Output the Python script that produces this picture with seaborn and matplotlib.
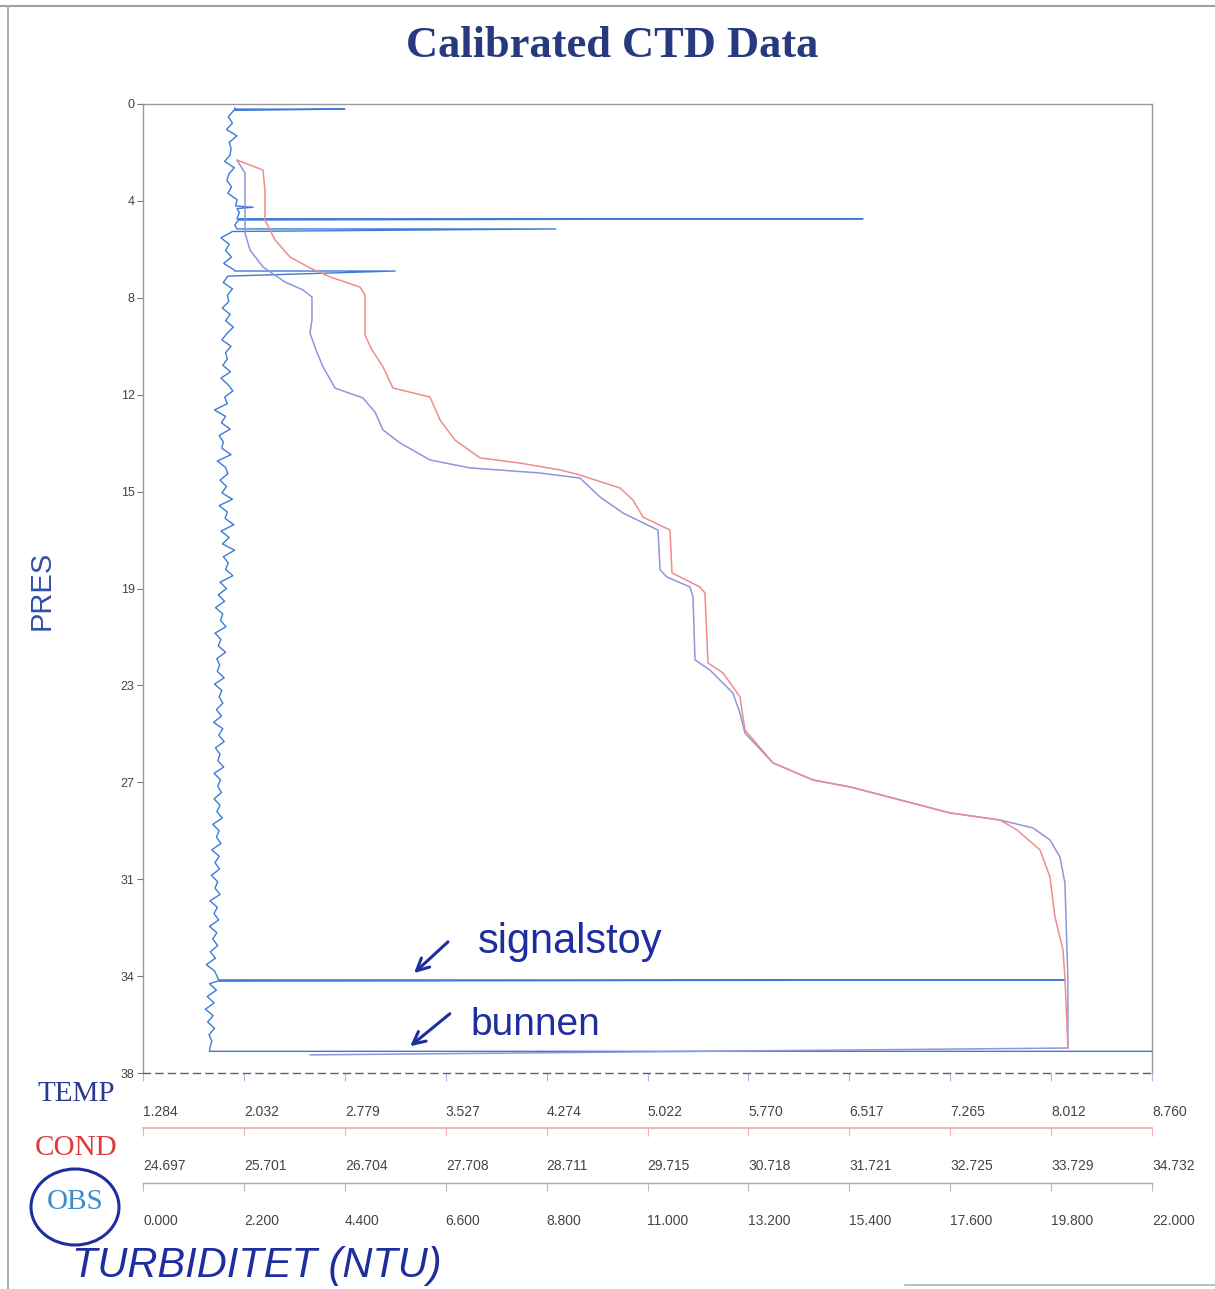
import matplotlib
matplotlib.use("Agg")
import matplotlib.pyplot as plt
from matplotlib.patches import Ellipse, FancyArrowPatch
from matplotlib.lines import Line2D
import seaborn as sns

# ---------------- data ----------------
pres_ticks = [0.0, 3.8, 7.6, 11.4, 15.2, 19.0, 22.8, 26.6, 30.4, 34.2, 38.0]
pres_labels = ["0", "4", "8", "12", "15", "19", "23", "27", "31", "34", "38"]

temp_ticks = [1.284, 2.032, 2.779, 3.527, 4.274, 5.022, 5.770, 6.517, 7.265, 8.012, 8.760]
cond_ticks = [24.697, 25.701, 26.704, 27.708, 28.711, 29.715, 30.718, 31.721, 32.725, 33.729, 34.732]
obs_ticks = [0.0, 2.2, 4.4, 6.6, 8.8, 11.0, 13.2, 15.4, 17.6, 19.8, 22.0]

# temperature profile (degC) vs pressure (dbar)
temp_pres = [2.20, 2.71, 3.76, 5.06, 5.73, 6.39, 6.98, 7.29, 7.57, 8.47, 8.98, 9.65,
             10.31, 11.14, 11.53, 12.08, 12.78, 13.29, 13.96, 14.27, 14.47, 14.67,
             15.41, 16.04, 16.71, 18.27, 18.55, 18.94, 19.33, 21.80, 22.20, 23.10,
             23.88, 24.67, 25.84, 26.51, 26.78, 27.29, 27.80, 28.08, 28.39, 28.86,
             29.53, 30.55, 33.18, 34.35, 37.02, 37.29]
temp_val = [1.980, 2.040, 2.040, 2.040, 2.077, 2.173, 2.336, 2.469, 2.536, 2.536, 2.521,
            2.566, 2.618, 2.707, 2.914, 3.003, 3.062, 3.188, 3.410, 3.707, 4.225, 4.522,
            4.670, 4.840, 5.100, 5.115, 5.166, 5.337, 5.359, 5.374, 5.485, 5.655, 5.707,
            5.744, 5.952, 6.248, 6.522, 6.893, 7.263, 7.634, 7.878, 8.004, 8.078, 8.115,
            8.130, 8.137, 8.137, 2.521]

# conductivity profile (mS/cm) vs pressure (dbar)
cond_pres = [2.20, 2.59, 3.37, 4.55, 5.33, 6.00, 6.43, 6.78, 7.18, 7.49, 9.06, 9.65,
             10.31, 11.14, 11.49, 12.39, 13.18, 13.88, 14.08, 14.35, 14.55, 15.06, 15.53,
             16.20, 16.71, 18.39, 18.94, 19.18, 21.92, 22.31, 23.25, 24.55, 25.84, 26.51,
             26.78, 27.29, 27.80, 28.08, 28.47, 29.25, 30.31, 31.88, 33.18, 34.35, 37.02]
cond_val = [25.632, 25.890, 25.910, 25.910, 26.010, 26.159, 26.358, 26.557, 26.855,
            26.905, 26.905, 26.975, 27.084, 27.183, 27.551, 27.651, 27.800, 28.049,
            28.446, 28.844, 29.043, 29.441, 29.570, 29.670, 29.938, 29.958, 30.236,
            30.286, 30.316, 30.465, 30.634, 30.684, 30.963, 31.360, 31.728, 32.226,
            32.723, 33.220, 33.389, 33.618, 33.717, 33.767, 33.847, 33.867, 33.896]

# optical backscatter / turbidity (NTU) vs pressure (dbar)
obs_pres = [0.15, 0.20, 0.20, 0.25, 0.50, 0.75, 1.00, 1.25, 1.50, 1.75, 2.00, 2.25, 2.50,
            2.75, 3.00, 3.25, 3.50, 3.75, 4.00, 4.05, 4.10, 4.25, 4.50, 4.50, 4.55,
            4.75, 4.90, 4.90, 5.00, 5.25, 5.50, 5.75, 6.00, 6.25, 6.50, 6.55, 6.55,
            6.75, 7.00, 7.25, 7.50, 7.75, 8.00, 8.25, 8.50, 8.75, 9.00, 9.25, 9.50,
            9.75, 10.00, 10.25, 10.50, 10.75, 11.00, 11.25, 11.50, 11.75, 12.00, 12.25,
            12.50, 12.75, 13.00, 13.25, 13.50, 13.75, 14.00, 14.25, 14.50, 14.75, 15.00,
            15.25, 15.50, 15.75, 16.00, 16.25, 16.50, 16.75, 17.00, 17.25, 17.50, 17.75,
            18.00, 18.25, 18.50, 18.75, 19.00, 19.25, 19.50, 19.75, 20.00, 20.25, 20.50,
            20.75, 21.00, 21.25, 21.50, 21.75, 22.00, 22.25, 22.50, 22.75, 23.00, 23.25,
            23.50, 23.75, 24.00, 24.25, 24.50, 24.75, 25.00, 25.25, 25.50, 25.75, 26.00,
            26.25, 26.50, 26.75, 27.00, 27.25, 27.50, 27.75, 28.00, 28.25, 28.50, 28.75,
            29.00, 29.25, 29.50, 29.75, 30.00, 30.25, 30.50, 30.75, 31.00, 31.25, 31.50,
            31.75, 32.00, 32.25, 32.50, 32.75, 33.00, 33.25, 33.50, 33.75, 34.00, 34.35,
            34.35, 34.40, 34.50, 34.75, 35.00, 35.25, 35.50, 35.75, 36.00, 36.25, 36.50,
            36.75, 37.00, 37.15, 37.15]
obs_val = [2.00, 2.00, 4.40, 1.98, 1.86, 1.95, 1.82, 2.05, 1.88, 1.92, 1.90, 1.78, 1.99,
           1.87, 1.83, 1.93, 1.85, 2.05, 2.02, 2.40, 2.05, 2.10, 2.05, 15.70, 2.08,
           2.00, 2.05, 9.00, 1.95, 1.70, 1.88, 1.80, 1.93, 1.76, 1.98, 2.00, 5.50,
           1.85, 1.75, 1.95, 1.84, 1.87, 1.73, 1.90, 1.80, 1.97, 1.83, 1.72, 1.92,
           1.80, 1.84, 1.74, 1.91, 1.70, 1.85, 1.96, 1.78, 1.84, 1.56, 1.80,
           1.71, 1.90, 1.66, 1.75, 1.72, 1.92, 1.62, 1.80, 1.85, 1.68, 1.82,
           1.72, 1.95, 1.66, 1.84, 1.79, 1.98, 1.70, 1.88, 1.73, 2.00, 1.75,
           1.86, 1.80, 1.96, 1.68, 1.82, 1.64, 1.78, 1.58, 1.74, 1.69, 1.81,
           1.57, 1.70, 1.64, 1.80, 1.61, 1.67, 1.62, 1.77, 1.56, 1.72, 1.66,
           1.74, 1.60, 1.71, 1.54, 1.74, 1.65, 1.77, 1.58, 1.68, 1.63, 1.76,
           1.55, 1.69, 1.63, 1.71, 1.55, 1.68, 1.61, 1.73, 1.52, 1.66, 1.60,
           1.70, 1.50, 1.66, 1.57, 1.67, 1.49, 1.63, 1.57, 1.68, 1.46, 1.62,
           1.55, 1.65, 1.45, 1.61, 1.52, 1.63, 1.47, 1.58, 1.38, 1.56, 1.65,
           20.10, 1.62, 1.45, 1.60, 1.40, 1.55, 1.36, 1.53, 1.41, 1.56, 1.44,
           1.50, 1.46, 1.45, 24.00]

# ---------------- style ----------------
sns.set_theme(style="white")
plt.rcParams["font.family"] = ["Liberation Sans", "DejaVu Sans"]

W, H = 1215, 1289
fig = plt.figure(figsize=(W / 100, H / 100), dpi=100)
fig.patch.set_facecolor("white")


def fx(px):
    return px / W


def fy(py):
    return 1 - py / H


L, R, T, B = 143, 1152, 104, 1073
ax = fig.add_axes([fx(L), fy(B), (R - L) / W, (B - T) / H])
ax_t = ax.twiny()
ax_c = ax.twiny()

TEMP_C = "#8e96dc"
COND_C = "#f08c8c"
OBS_C = "#3d7bd6"
INK = "#1f2e9e"
FRAME = "#9a9a9a"

# profiles
sns.lineplot(x=obs_val, y=obs_pres, sort=False, estimator=None, ax=ax,
             color=OBS_C, linewidth=1.0)
sns.lineplot(x=cond_val, y=cond_pres, sort=False, estimator=None, ax=ax_c,
             color=COND_C, linewidth=1.1)
sns.lineplot(x=temp_val, y=temp_pres, sort=False, estimator=None, ax=ax_t,
             color=TEMP_C, linewidth=1.1)

ax.set_ylim(38, 0)
ax.set_xlim(obs_ticks[0], obs_ticks[-1])
ax_t.set_xlim(temp_ticks[0], temp_ticks[-1])
ax_c.set_xlim(cond_ticks[0], cond_ticks[-1])
for a in (ax, ax_t, ax_c):
    a.set_xlabel("")
    a.set_ylabel("")

# y axis (pressure)
ax.set_yticks(pres_ticks)
ax.set_yticklabels(pres_labels)
ax.tick_params(axis="y", left=True, direction="out", length=4, width=0.8,
               color="#777777", labelsize=9, labelcolor="#444444", pad=2)
for side in ("left", "top", "right"):
    ax.spines[side].set_color(FRAME)
    ax.spines[side].set_linewidth(1.0)

# OBS axis (lowest)
ax.spines["bottom"].set_position(("outward", 110 * 0.72))
ax.spines["bottom"].set_color("#a8a8a8")
ax.spines["bottom"].set_linewidth(1.0)
ax.set_xticks(obs_ticks)
ax.set_xticklabels([f"{v:.3f}" for v in obs_ticks])
ax.tick_params(axis="x", bottom=True, direction="out", length=6, width=0.8,
               color="#bbbbbb", labelsize=10, labelcolor="#444444", pad=16)

# TEMP and COND axes share the pressure scale
for a in (ax_t, ax_c):
    for side in ("top", "left", "right"):
        a.spines[side].set_visible(False)
    a.xaxis.set_ticks_position("bottom")
    a.xaxis.set_label_position("bottom")
    a.spines["bottom"].set_visible(True)
    a.patch.set_visible(False)

ax_t.spines["bottom"].set_position(("outward", 0))
ax_t.spines["bottom"].set_linestyle((0, (5, 4)))
ax_t.spines["bottom"].set_color("#55607a")
ax_t.spines["bottom"].set_linewidth(1.0)
ax_t.set_xticks(temp_ticks)
ax_t.set_xticklabels([f"{v:.3f}" for v in temp_ticks])
ax_t.tick_params(axis="x", bottom=True, top=False, direction="out", length=6,
                 width=0.8, color="#b0b6e0", labelsize=10, labelcolor="#444444",
                 pad=17)

ax_c.spines["bottom"].set_position(("outward", 55 * 0.72))
ax_c.spines["bottom"].set_color("#f3a3a3")
ax_c.spines["bottom"].set_linewidth(1.2)
ax_c.set_xticks(cond_ticks)
ax_c.set_xticklabels([f"{v:.3f}" for v in cond_ticks])
ax_c.tick_params(axis="x", bottom=True, top=False, direction="out", length=6,
                 width=0.8, color="#f3b0b0", labelsize=10, labelcolor="#444444",
                 pad=16)

for a in (ax, ax_t, ax_c):
    for lbl in a.get_xticklabels():
        lbl.set_horizontalalignment("left")

# ---------------- texts ----------------
fig.text(fx(612), fy(46), "Calibrated CTD Data", ha="center", va="center",
         family=["Liberation Serif", "DejaVu Serif"], weight="bold",
         fontsize=32, color="#27397f")
fig.text(fx(42), fy(590), "PRES", rotation=90, ha="center", va="center",
         fontsize=21, color="#3050a8")

serif = ["Liberation Serif", "DejaVu Serif"]
fig.text(fx(76), fy(1094), "TEMP", ha="center", va="center", family=serif,
         fontsize=21, color="#2b3990")
fig.text(fx(76), fy(1148), "COND", ha="center", va="center", family=serif,
         fontsize=21, color="#dd3a3a")
fig.text(fx(75), fy(1202), "OBS", ha="center", va="center", family=serif,
         fontsize=21, color="#3b8ccc")

# handwritten notes
fig.patches.append(Ellipse((fx(75), fy(1207)), 88 / W, 76 / H, angle=0,
                           transform=fig.transFigure, fill=False,
                           edgecolor=INK, linewidth=2.2))
fig.text(fx(257), fy(1266), "TURBIDITET (NTU)", ha="center", va="center",
         fontsize=30, style="italic", color=INK)
fig.text(fx(570), fy(942), "signalstoy", ha="center", va="center",
         fontsize=30, color=INK)
fig.text(fx(535), fy(1025), "bunnen", ha="center", va="center",
         fontsize=28, color=INK)
for (x0, y0, x1, y1) in [(450, 940, 412, 975), (452, 1012, 408, 1048)]:
    fig.patches.append(FancyArrowPatch((fx(x0), fy(y0)), (fx(x1), fy(y1)),
                                       transform=fig.transFigure,
                                       arrowstyle="->", mutation_scale=22,
                                       color=INK, linewidth=2.2))

# sheet frame
fig.add_artist(Line2D([fx(0), fx(1215)], [fy(6), fy(6)],
                      transform=fig.transFigure, color="#a0a0a0", linewidth=1.5))
fig.add_artist(Line2D([fx(8), fx(8)], [fy(6), fy(1289)],
                      transform=fig.transFigure, color="#b0b0b0", linewidth=1.5))
fig.add_artist(Line2D([fx(905), fx(1215)], [fy(1285), fy(1285)],
                      transform=fig.transFigure, color="#c0c0c0", linewidth=1.5))

fig.savefig("out.png", dpi=100, facecolor="white")
